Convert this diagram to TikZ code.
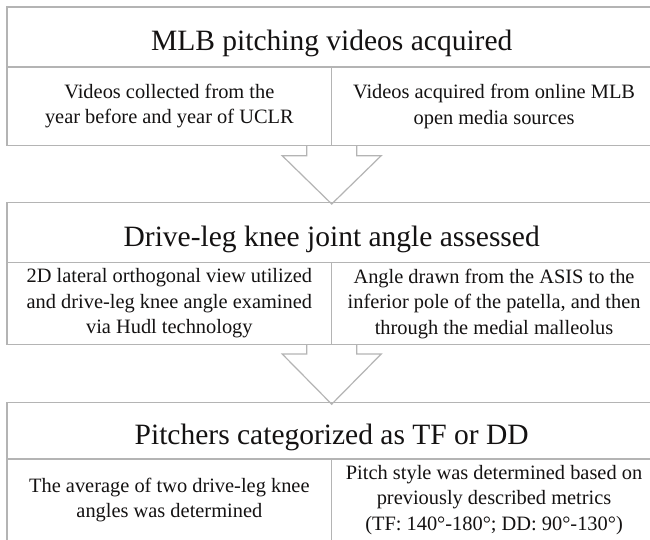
\documentclass[tikz,border=0pt]{standalone}
\usepackage{fontspec}
\setmainfont{Liberation Serif}
\usetikzlibrary{calc}
\definecolor{linegray}{RGB}{180,180,180}
\definecolor{textblack}{RGB}{20,18,18}
\begin{document}
\begin{tikzpicture}[x=1pt,y=-1pt,
  cell/.style={draw=linegray, line width=1.2pt, rectangle, inner sep=0pt, outer sep=0pt, text=textblack},
  titlecell/.style={cell, minimum width=649.4pt, font=\fontsize{29.5}{35}\selectfont, text height=28pt, text depth=0pt},
  bodycell/.style={cell, minimum width=324.7pt, align=center, font=\fontsize{20.4}{25.5}\selectfont},
  blockarrow/.style={draw=linegray, line width=1.2pt, line join=miter}]
\useasboundingbox (0,0) rectangle (650,540);
\fill[white] (0,0) rectangle (650,540);
\clip (0,0) rectangle (650,540);

% Box 1
\node[titlecell, minimum height=60pt] (T1) at (331.7,37) {MLB pitching videos acquired};
\node[bodycell, minimum height=78.5pt] (L1) at (169.35,106.25) {Videos collected from the\\year before and year of UCLR};
\node[bodycell, minimum height=78.5pt] (R1) at (494.05,106.25) {Videos acquired from online MLB\\open media sources};

% Box 2
\node[titlecell, minimum height=60.2pt] (T2) at (331.7,232.6) {Drive-leg knee joint angle assessed};
\node[bodycell, minimum height=81.8pt] (L2) at (169.35,303.6) {2D lateral orthogonal view utilized\\and drive-leg knee angle examined\\via Hudl technology};
\node[bodycell, minimum height=81.8pt] (R2) at (494.05,303.6) {Angle drawn from the ASIS to the\\inferior pole of the patella, and then\\through the medial malleolus};

% Box 3
\node[titlecell, minimum height=56.3pt] (T3) at (331.7,430.85) {Pitchers categorized as TF or DD};
\node[bodycell, minimum height=82pt] (L3) at (169.35,500) {The average of two drive-leg knee\\angles was determined};
\node[bodycell, minimum height=82pt] (R3) at (494.05,500) {Pitch style was determined based on\\previously described metrics\\(TF: 140°-180°; DD: 90°-130°)};

% Block arrows
\draw[blockarrow] ($(L1.south east)+(-25,0)$) -- ++(0,10.2) -- ++(-24.5,0)
  -- ($(T2.north)+(0,1.5)$) -- ($(L1.south east)+(49.5,10.2)$) -- ++(-24.5,0) -- ++(0,-10.2);
\draw[blockarrow] ($(L2.south east)+(-25,0)$) -- ++(0,9.5) -- ++(-24.5,0)
  -- ($(T3.north)+(0,1.5)$) -- ($(L2.south east)+(49.5,9.5)$) -- ++(-24.5,0) -- ++(0,-9.5);
\end{tikzpicture}
\end{document}
